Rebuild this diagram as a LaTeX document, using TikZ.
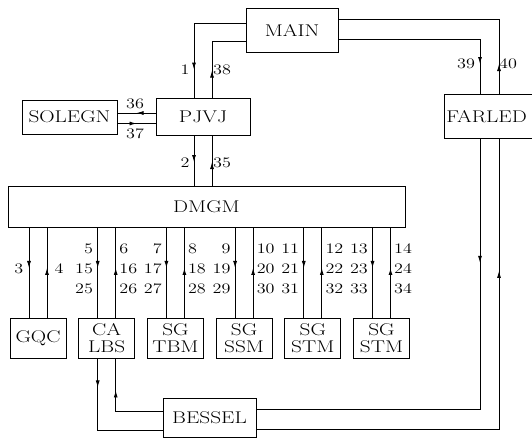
\documentclass[tikz,border=0pt]{standalone}
\usetikzlibrary{arrows.meta,positioning,decorations.markings}
\newcommand{\boxfont}{\fontsize{17}{17}\selectfont}
\newcommand{\numfont}{\fontsize{14.5}{20}\selectfont}
\newcommand{\sw}[1]{\scalebox{1.25}[1]{#1}}

\begin{document}
\begin{tikzpicture}[x=1pt, y=-1pt,
    % --- node styles ---
    module/.style={
      rectangle, draw=black, line width=0.9pt, inner sep=2pt,
      align=center, font=\boxfont},
    leaf/.style={module, minimum width=56pt, minimum height=40pt},
    num/.style={inner sep=0.5pt, font=\numfont},
    % --- connector styles ---
    link/.style={line width=0.9pt},
    fwd/.style={link, postaction={decorate}, decoration={markings,
      mark=at position #1 with {\arrow{Latex[length=7pt,width=4pt]}}}},
    bwd/.style={link, postaction={decorate}, decoration={markings,
      mark=at position #1 with {\arrowreversed{Latex[length=7pt,width=4pt]}}}},
  ]
  \useasboundingbox (0,0) rectangle (532,439);

  % ============== TOP LEVEL ==============
  \node[module, minimum width=92pt, minimum height=44pt] (main) at (292,30) {\sw{MAIN}};
  \node[module, minimum width=94pt, minimum height=37pt] (pjvj) at (203,116.5) {\sw{PJVJ}};
  \node[module, minimum width=95pt, minimum height=34pt] (solegn) at (69.5,117) {\sw{SOLEGN}};
  \node[module, anchor=north west, minimum height=44pt, text width=96pt, align=left] (farled) at (444,94) {\sw{FARLED}};
  \node[module, minimum width=397pt, minimum height=41pt] (dmgm) at (206.5,206.5) {\sw{DMGM}};

  % ============== LEAVES ==============
  \node[leaf] (gqc) at (38,338) {\sw{GQC}};
  \node[leaf, right=11.8pt of gqc] (calbs) {\sw{CA}\\\sw{LBS}};
  \node[leaf, right=11.8pt of calbs] (tbm) {\sw{SG}\\\sw{TBM}};
  \node[leaf, right=11.8pt of tbm] (ssm) {\sw{SG}\\\sw{SSM}};
  \node[leaf, right=11.8pt of ssm] (stma) {\sw{SG}\\\sw{STM}};
  \node[leaf, right=11.8pt of stma] (stmb) {\sw{SG}\\\sw{STM}};

  \node[module, minimum width=93pt, minimum height=39pt] (bessel) at (209.5,417.5) {\sw{BESSEL}};

  % ============== CONNECTORS ==============
  \draw[fwd=-28pt] ([yshift=7pt]main.west) -| ([xshift=-9pt]pjvj.north);
  \draw[bwd=-27pt] ([yshift=-11pt]main.west) -| ([xshift=9pt]pjvj.north);
  \draw[bwd=-30pt] ([yshift=11pt]main.east) -| ([xshift=55pt]farled.north west);
  \draw[fwd=-30pt] ([yshift=-9pt]main.east) -| ([xshift=36pt]farled.north west);

  \draw[fwd=0.5] ([yshift=3.5pt]pjvj.west) -- ([yshift=3.5pt]pjvj.west -| solegn.east);
  \draw[bwd=0.5] ([yshift=-7pt]pjvj.west) -- ([yshift=-7pt]pjvj.west -| solegn.east);

  \draw[fwd=0.53] ([xshift=-9pt]pjvj.south) -- ([xshift=-9pt]pjvj.south |- dmgm.north);
  \draw[bwd=0.53] ([xshift=9pt]pjvj.south) -- ([xshift=9pt]pjvj.south |- dmgm.north);

  \foreach \lf in {gqc,calbs,tbm,ssm,stma,stmb} {
    \draw[fwd=0.45] ([xshift=-9pt]\lf.north |- dmgm.south) -- ([xshift=-9pt]\lf.north);
    \draw[bwd=0.45] ([xshift=9pt]\lf.north |- dmgm.south) -- ([xshift=9pt]\lf.north);
  }

  % bessel is called from two places
  \draw[fwd=29pt] ([xshift=-9pt]calbs.south) |- ([yshift=-12.5pt]bessel.west);
  \draw[bwd=32pt] ([xshift=9pt]calbs.south) |- ([yshift=6.5pt]bessel.west);
  \draw[fwd=124pt] ([xshift=36pt]farled.south west) |- ([yshift=8.5pt]bessel.east);
  \draw[bwd=132pt] ([xshift=55pt]farled.south west) |- ([yshift=-11.5pt]bessel.east);

  % ============== NUMBERS ==============
  \node[num] (n1) at (185,70) {\sw{1}};
  \node[num] (n38) at (222,70) {\sw{38}};
  \node[num] (n2) at (185,163) {\sw{2}};
  \node[num] (n35) at (222,163) {\sw{35}};
  \node[num] (n36) at (135,104) {\sw{36}};
  \node[num] (n37) at (135,134) {\sw{37}};
  \node[num] (n39) at (466,64) {\sw{39}};
  \node[num] (n40) at (508,64) {\sw{40}};

  \coordinate (numrow) at (0,269);
  \node[num, anchor=east] (n3) at ([xshift=-14pt]gqc.north |- numrow) {\sw{3}};
  \node[num, anchor=west] (n4) at ([xshift=16pt]gqc.north |- numrow) {\sw{4}};
  \foreach \lf/\a/\b/\c/\d/\e/\f in {calbs/5/15/25/6/16/26, tbm/7/17/27/8/18/28,
      ssm/9/19/29/10/20/30, stma/11/21/31/12/22/32, stmb/13/23/33/14/24/34} {
    \node[num, anchor=east, align=right] (\lf-in) at ([xshift=-13pt]\lf.north |- numrow)
      {\sw{\a}\\\sw{\b}\\\sw{\c}};
    \node[num, anchor=west, align=left] (\lf-out) at ([xshift=12pt]\lf.north |- numrow)
      {\sw{\d}\\\sw{\e}\\\sw{\f}};
  }

\end{tikzpicture}
\end{document}
